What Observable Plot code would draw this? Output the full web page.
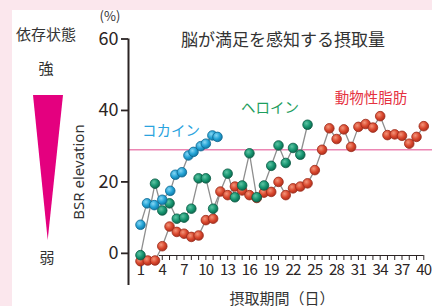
<!DOCTYPE html>
<html><head><meta charset="utf-8">
<script src="https://cdn.jsdelivr.net/npm/d3@7"></script>
<script src="https://cdn.jsdelivr.net/npm/@observablehq/plot@0.6"></script>
<style>
html,body{margin:0;padding:0;background:#fbe7ed;}
#wrap{position:relative;width:432px;height:306px;overflow:hidden;font-family:"Noto Sans CJK JP","Noto Sans",sans-serif;color:#333;}
#panel{position:absolute;left:12px;top:10px;right:0;bottom:0;background:#fff;}
.t{position:absolute;transform:translate(-50%,-50%);white-space:nowrap;line-height:1;}
#wrap svg.plot, #wrap > svg{position:absolute;left:0;top:0;}
</style></head><body>
<div id="wrap"><div id="panel"></div></div>
<script>
// ---- data ----
const xTickLabels = [1,4,7,10,13,16,19,22,25,28,31,34,37,40];
const xMinorTicks = d3.range(4, 41);
const yTicks = [0,20,40,60];
const satiety = 29;

const cocaineDays = [1,1.9,2.9,4,5.1,5.8,6.7,7.6,8.3,9.3,10,10.9,11.6];
const cocaine     = [8,14,13.5,15,17.5,22,22.7,27.4,28.4,30,30.7,33,32.6];

const heroinDays = [1,3,4,5,6,7,8,9,10,11,13,14,15,16,17,18,19,20,21,22,23,24];
const heroin     = [-0.5,19.5,12,14,9.7,10,12.5,21,21,12.5,22.3,15.7,19,28,15.7,19,24.5,30.2,25.3,29.5,27.6,36];

const fatDays = d3.range(1, 41);
const fat = [-2.2,-2,-2,2,7.5,6,5.5,4.6,5,9.3,9.7,17.3,16.3,18.7,17.6,16.3,15.5,17,17.2,20,16.3,18.2,18.7,19.6,23.3,29,35,32,34.7,29.8,35.4,36.2,35.2,38.4,33.1,33.3,32.9,30.7,32.6,35.6];

const toRows = (days, vals) => days.map((d, i) => ({day: d, v: vals[i]}));
const cocaineRows = toRows(cocaineDays, cocaine);
const heroinRows = toRows(heroinDays, heroin);
const fatRows = toRows(fatDays, fat);

const xMin = -0.65, xMax = 41.2;
const ink = "#2b2424";
const lineGray = "#8e8e8e";

const plot = Plot.plot({
  width: 432, height: 306,
  marginLeft: 128, marginRight: 0, marginTop: 38.5, marginBottom: 51,
  x: {domain: [xMin, xMax]},
  y: {domain: [-0.6, 60]},
  style: {background: "transparent", fontFamily: '"Noto Sans CJK JP","Noto Sans",sans-serif', color: ink, overflow: "visible"},
  marks: [
    Plot.ruleY([satiety], {stroke: "#ec86b3", strokeWidth: 1.6}),
    Plot.ruleX([xMin], {y1: -9, y2: 60, stroke: ink, strokeWidth: 2}),
    Plot.axisY({ticks: yTicks, tickSize: 7, tickPadding: 3, fontSize: 18, label: null, strokeWidth: 1.8}),
    Plot.ruleY([-0.6], {x1: 3.6, x2: 40, stroke: ink, strokeWidth: 1.2}),
    Plot.axisX({ticks: xMinorTicks, tickSize: 5, tickFormat: () => "", label: null, strokeWidth: 1}),
    Plot.axisX({ticks: xTickLabels, tickSize: 0, tickPadding: 9, fontSize: 15, label: null}),
    Plot.line(fatRows, {x: "day", y: "v", stroke: lineGray, strokeWidth: 1.3}),
    Plot.line(heroinRows, {x: "day", y: "v", stroke: lineGray, strokeWidth: 1.3}),
    Plot.line(cocaineRows, {x: "day", y: "v", stroke: lineGray, strokeWidth: 1.3}),
    Plot.dot(fatRows, {x: "day", y: "v", r: 4.8, fill: "url(#gRed)", stroke: "#9a2c1c", strokeWidth: 0.8}),
    Plot.dot(heroinRows, {x: "day", y: "v", r: 4.8, fill: "url(#gGreen)", stroke: "#0b5a44", strokeWidth: 0.8}),
    Plot.dot(cocaineRows, {x: "day", y: "v", r: 4.8, fill: "url(#gBlue)", stroke: "#0f6790", strokeWidth: 0.8})
  ]
});

const svg = d3.select(plot);
const defs = svg.insert("defs", ":first-child");
function grad(id, c0, c1, c2) {
  const g = defs.append("radialGradient").attr("id", id).attr("cx", "38%").attr("cy", "35%").attr("r", "70%");
  g.append("stop").attr("offset", "0%").attr("stop-color", c0);
  g.append("stop").attr("offset", "55%").attr("stop-color", c1);
  g.append("stop").attr("offset", "100%").attr("stop-color", c2);
}
grad("gRed", "#f3957a", "#d9472d", "#a82c1b");
grad("gGreen", "#5fc4a4", "#169570", "#0c6249");
grad("gBlue", "#86d6f4", "#22a2d4", "#12739e");

svg.selectAll('g[aria-label="x-axis tick label"] text').attr("letter-spacing", "-0.7");

const wrap = document.getElementById("wrap");
wrap.appendChild(plot);

// decorative side panel
const tri = document.createElementNS("http://www.w3.org/2000/svg", "svg");
tri.setAttribute("width", 432); tri.setAttribute("height", 306);
tri.style.position = "absolute"; tri.style.left = "0"; tri.style.top = "0";
tri.innerHTML = '<polygon points="33,95 63,95 47.7,240" fill="#e4007f"/>';
wrap.appendChild(tri);

const labels = [
  {text: "依存状態", x: 46, y: 33, size: 15, color: "#333"},
  {text: "強", x: 46, y: 67, size: 15, color: "#333"},
  {text: "弱", x: 47, y: 256, size: 15, color: "#333"},
  {text: "(%)", x: 110, y: 15, size: 13, color: "#333"},
  {text: "脳が満足を感知する摂取量", x: 283, y: 38, size: 17, color: "#333"},
  {text: "コカイン", x: 171, y: 130, size: 14.5, color: "#2aa3de"},
  {text: "ヘロイン", x: 270, y: 107, size: 14.5, color: "#1e9e5e"},
  {text: "動物性脂肪", x: 371, y: 97, size: 14.5, color: "#e5323f"},
  {text: "摂取期間（日）", x: 282, y: 297, size: 15, color: "#333"}
];
for (const l of labels) {
  const d = document.createElement("div");
  d.className = "t";
  d.textContent = l.text;
  d.style.left = l.x + "px"; d.style.top = l.y + "px";
  d.style.fontSize = l.size + "px"; d.style.color = l.color;
  wrap.appendChild(d);
}
const bsr = document.createElement("div");
bsr.className = "t";
bsr.textContent = "BSR elevation";
bsr.style.left = "78px"; bsr.style.top = "172px"; bsr.style.fontSize = "15px";
bsr.style.fontFamily = '"Noto Sans","Open Sans",sans-serif';
bsr.style.transform = "translate(-50%,-50%) rotate(-90deg)";
wrap.appendChild(bsr);
</script>
</body></html>
